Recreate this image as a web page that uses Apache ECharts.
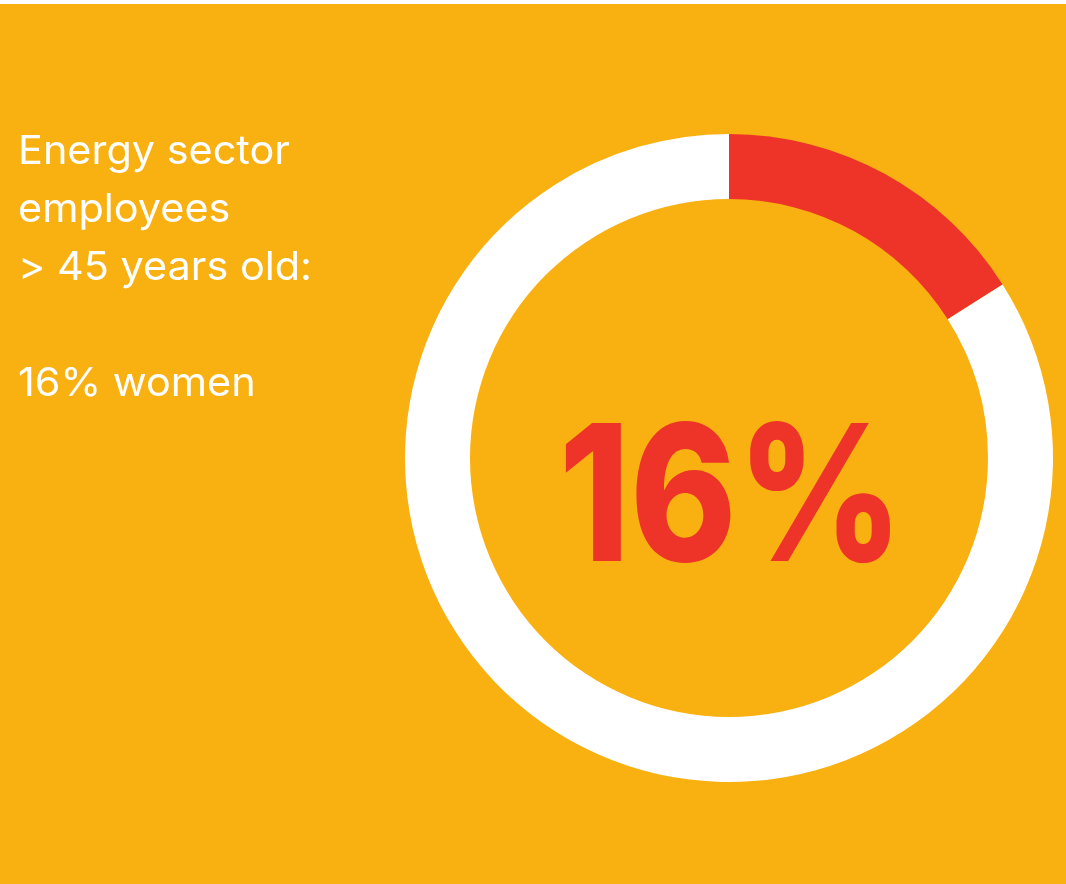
<!DOCTYPE html>
<html>
<head>
<meta charset="utf-8">
<script src="https://cdn.jsdelivr.net/npm/echarts@6/dist/echarts.min.js"></script>
<style>
  html, body { margin: 0; padding: 0; background: #ffffff; }
  #chart { position: absolute; left: 0; top: 4px; width: 1066px; height: 880px; }
</style>
</head>
<body>
<div id="chart"></div>
<script>
const categories = ['Women', 'Men'];
const values = [16, 84];
const colors = ['#EE3329', '#FFFFFF'];
const headingLines = ['Energy sector', 'employees', '> 45 years old:', '', '16% women'];
const centerLabel = '16%';

const chart = echarts.init(document.getElementById('chart'), null, { renderer: 'canvas' });

const lineTops = [158, 216, 274, null, 390];
const graphics = [];
headingLines.forEach((t, i) => {
  if (!t) return;
  graphics.push({
    type: 'text', x: 18, y: lineTops[i] - 30, scaleX: 1.035, silent: true,
    style: {
      text: t, fill: '#ffffff',
      fontFamily: 'Inter', fontSize: 40, fontWeight: 400,
      verticalAlign: 'top'
    }
  });
});
graphics.push({
  type: 'text', x: 731, y: 500, scaleX: 0.85, silent: true,
  style: {
    text: centerLabel, fill: '#EE3329',
    fontFamily: 'Inter', fontSize: 190, fontWeight: 800,
    align: 'center', verticalAlign: 'middle'
  }
});

chart.setOption({
  backgroundColor: '#F9B011',
  animation: false,
  graphic: graphics,
  series: [{
    type: 'pie',
    center: [729, 454],
    radius: [259, 324],
    startAngle: 90,
    clockwise: true,
    silent: true,
    label: { show: false },
    labelLine: { show: false },
    data: categories.map((c, i) => ({
      name: c, value: values[i],
      itemStyle: { color: colors[i] }
    }))
  }]
});
</script>
</body>
</html>
